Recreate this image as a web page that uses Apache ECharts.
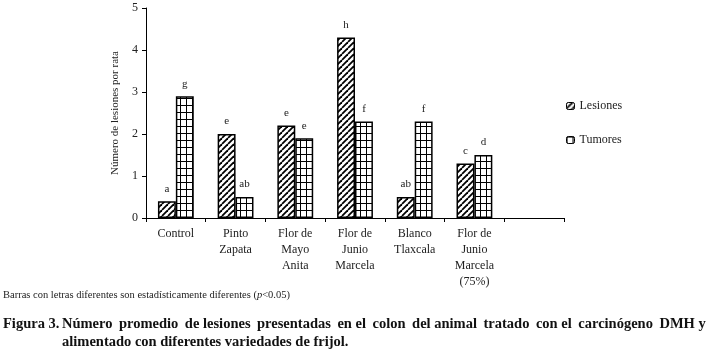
<!DOCTYPE html>
<html>
<head>
<meta charset="utf-8">
<script src="https://cdn.jsdelivr.net/npm/echarts@6/dist/echarts.min.js"></script>
<style>
  html, body { margin: 0; padding: 0; background: #fff; }
  #chart { width: 712px; height: 355px; }
</style>
</head>
<body>
<div id="chart"></div>
<script>
// data
const categories = ["Control", "Pinto\nZapata", "Flor de\nMayo\nAnita", "Flor de\nJunio\nMarcela", "Blanco\nTlaxcala", "Flor de\nJunio\nMarcela\n(75%)", ""];
const lesiones = [0.4, 2.0, 2.2, 4.3, 0.5, 1.3, null];
const tumores = [2.9, 0.5, 1.9, 2.3, 2.3, 1.5, null];
const lesionesLetters = ["a", "e", "e", "h", "ab", "c", ""];
const tumoresLetters = ["g", "ab", "e", "f", "f", "d", ""];
const yTicks = [0, 1, 2, 3, 4, 5];

const SERIF = "'Liberation Serif', 'DejaVu Serif', serif";

// fill patterns: diagonal hatching and a square grid
function hatchPattern() {
  const c = document.createElement("canvas");
  c.width = 6; c.height = 6;
  const ctx = c.getContext("2d");
  ctx.fillStyle = "#fff";
  ctx.fillRect(0, 0, 6, 6);
  ctx.strokeStyle = "#000";
  ctx.lineWidth = 1.8;
  for (const o of [-6, 0, 6]) {
    ctx.beginPath();
    ctx.moveTo(o, 6);
    ctx.lineTo(o + 6, 0);
    ctx.stroke();
  }
  return c;
}

function gridPattern() {
  const c = document.createElement("canvas");
  c.width = 6; c.height = 7;
  const ctx = c.getContext("2d");
  ctx.fillStyle = "#fff";
  ctx.fillRect(0, 0, 6, 7);
  ctx.fillStyle = "#000";
  ctx.fillRect(0, 0, 1, 7);
  ctx.fillRect(0, 0, 6, 1);
  return c;
}

// crude justification of the first caption line: thin spaces spread over the word gaps
const captionWords = "Número promedio de lesiones presentadas en el colon del animal tratado con el carcinógeno DMH y".split(" ");
const captionLine1 = captionWords.map((w, i) => (i > 0 && i % 3 !== 0 ? "\u2009" : "") + w).join(" ");

const chart = echarts.init(document.getElementById("chart"), null, { renderer: "canvas" });

const labelStyle = {
  show: true,
  position: "top",
  distance: 7,
  fontFamily: SERIF,
  fontSize: 11,
  color: "#222",
};

chart.setOption({
  animation: false,
  backgroundColor: "#fff",
  textStyle: { fontFamily: SERIF },
  grid: { left: 146, right: 148, top: 8, bottom: 137 },
  legend: {
    orient: "vertical",
    left: 561,
    top: 95,
    itemWidth: 8,
    itemHeight: 7,
    itemGap: 22,
    itemStyle: { borderWidth: 1 },
    textStyle: { fontFamily: SERIF, fontSize: 12, color: "#222" },
    data: ["Lesiones", "Tumores"],
  },
  xAxis: {
    type: "category",
    data: categories,
    axisLine: { lineStyle: { color: "#000", width: 1 } },
    axisTick: { show: true, length: 4, inside: false, lineStyle: { color: "#000" } },
    axisLabel: {
      interval: 0,
      fontFamily: SERIF,
      fontSize: 12,
      color: "#222",
      lineHeight: 16,
      margin: 8,
    },
  },
  yAxis: {
    type: "value",
    min: yTicks[0],
    max: yTicks[yTicks.length - 1],
    interval: 1,
    name: "Número de lesiones por rata",
    nameLocation: "middle",
    nameGap: 21,
    nameTextStyle: { fontFamily: SERIF, fontSize: 11, color: "#222" },
    axisLine: { show: true, lineStyle: { color: "#000", width: 1 } },
    axisTick: { show: true, length: 4, lineStyle: { color: "#000" } },
    splitLine: { show: false },
    axisLabel: { fontFamily: SERIF, fontSize: 12, color: "#222", margin: 8 },
  },
  series: [
    {
      name: "Lesiones",
      type: "bar",
      data: lesiones,
      barGap: "0%",
      barCategoryGap: "40%",
      itemStyle: {
        color: { image: hatchPattern(), repeat: "repeat" },
        borderColor: "#000",
        borderWidth: 1.5,
      },
      label: { ...labelStyle, formatter: (p) => lesionesLetters[p.dataIndex] },
    },
    {
      name: "Tumores",
      type: "bar",
      data: tumores,
      itemStyle: {
        color: { image: gridPattern(), repeat: "repeat" },
        borderColor: "#000",
        borderWidth: 1.5,
      },
      label: { ...labelStyle, formatter: (p) => tumoresLetters[p.dataIndex] },
    },
  ],
  graphic: [
    {
      type: "text",
      left: 3,
      top: 290,
      style: {
        text: "{a|Barras con letras diferentes son estadísticamente diferentes (}{i|p}{a|<0.05)}",
        rich: {
          a: { fontFamily: SERIF, fontSize: 10.5, fill: "#222", color: "#222" },
          i: { fontFamily: SERIF, fontSize: 10.5, fontStyle: "italic", fill: "#222", color: "#222" },
        },
      },
    },
    {
      type: "text",
      left: 3,
      top: 317,
      style: { text: "Figura 3.", font: "bold 14.5px " + SERIF, fill: "#111" },
    },
    {
      type: "text",
      left: 62,
      top: 317,
      style: {
        text: captionLine1,
        font: "bold 14.5px " + SERIF,
        fill: "#111",
      },
    },
    {
      type: "text",
      left: 62,
      top: 335,
      style: {
        text: "alimentado con diferentes variedades de frijol.",
        font: "bold 14.5px " + SERIF,
        fill: "#111",
      },
    },
  ],
});
</script>
</body>
</html>
